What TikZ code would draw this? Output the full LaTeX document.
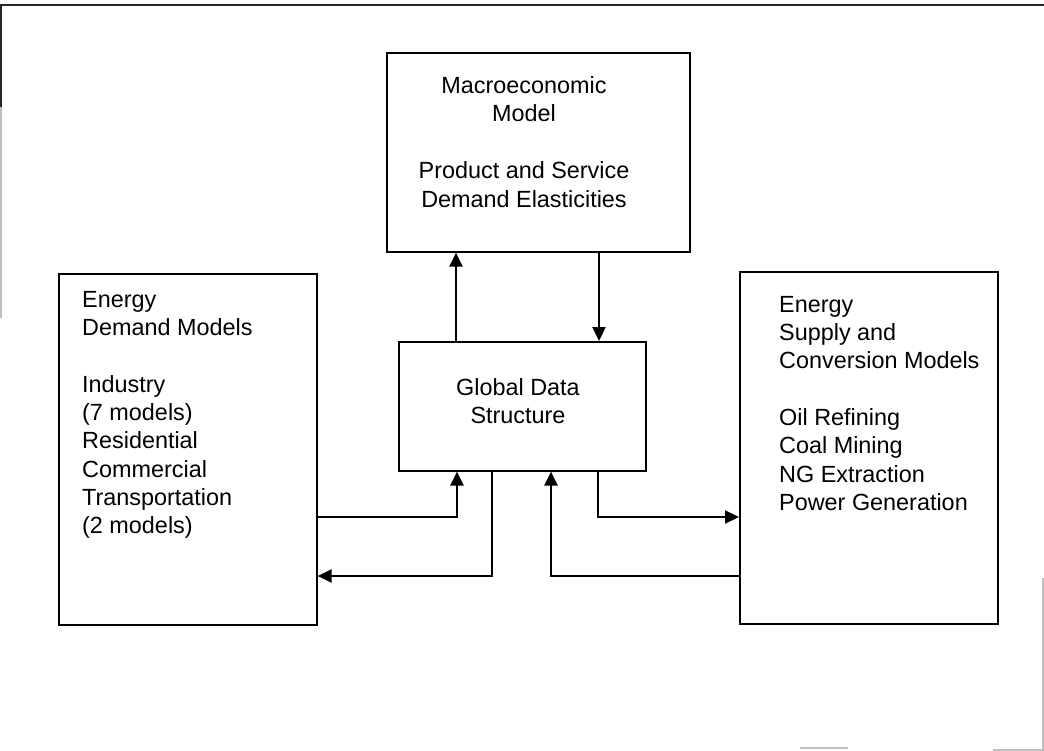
\documentclass[tikz,border=0pt]{standalone}
\usepackage{fontspec}
\setmainfont{Liberation Sans}
\usetikzlibrary{arrows.meta}
\begin{document}
\begin{tikzpicture}[x=1pt,y=-1pt,
  box/.style={draw=black,line width=1.6pt,inner sep=0pt,anchor=north west},
  txt/.style={inner sep=0pt,align=left,anchor=north west,font=\fontsize{23.4}{28.3}\selectfont},
  ctxt/.style={inner sep=0pt,align=center,anchor=north,font=\fontsize{23.4}{28.5}\selectfont},
  conn/.style={line width=2.2pt,-{Triangle[length=14pt,width=13pt]}},
  frame/.style={line width=2.2pt,black!85},
  lightframe/.style={line width=1.5pt,black!25}]
\useasboundingbox (0,0) rectangle (1044,751);
% outer frame remnants
\draw[frame] (0,5) -- (1044,5);
\draw[frame] (1,5) -- (1,107);
\draw[lightframe] (1,107) -- (1,318);
\draw[lightframe] (1043,578) -- (1043,751);
\draw[lightframe] (993,750) -- (1044,750);
\draw[lightframe] (800,748) -- (848,748);
% boxes
\node[box,minimum width=303pt,minimum height=199pt] (M) at (386,52) {};
\node[box,minimum width=247pt,minimum height=129pt] (G) at (398,341) {};
\node[box,minimum width=258pt,minimum height=351pt] (L) at (58,273) {};
\node[box,minimum width=258pt,minimum height=352pt] (R) at (739,271) {};
% texts
\node[ctxt] (Mt) at (524,73) {\rule{0pt}{20pt}Macroeconomic\\Model\\[28.5pt]Product and Service\\Demand Elasticities};
\node[ctxt] (Gt) at (518,375) {\rule{0pt}{20pt}Global Data\\Structure};
\node[txt] (Lt) at (82,287) {\rule{0pt}{20pt}Energy\\Demand Models\\[28.5pt]Industry\\(7 models)\\Residential\\Commercial\\Transportation\\(2 models)};
\node[txt] (Rt) at (779,292) {\rule{0pt}{20pt}Energy\\Supply and\\Conversion Models\\[28.3pt]Oil Refining\\Coal Mining\\NG Extraction\\Power Generation};
% connectors
\draw[conn] (G.north -| 456,0) -- (M.south -| 456,0);
\draw[conn] (M.south -| 599,0) -- (G.north -| 599,0);
\draw[conn] (L.east |- 0,517) -| (G.south -| 457,0);
\draw[conn] (G.south -| 492,0) |- (L.east |- 0,576);
\draw[conn] (R.west |- 0,576) -| (G.south -| 551,0);
\draw[conn] (G.south -| 598,0) |- (R.west |- 0,517);
\end{tikzpicture}
\end{document}
